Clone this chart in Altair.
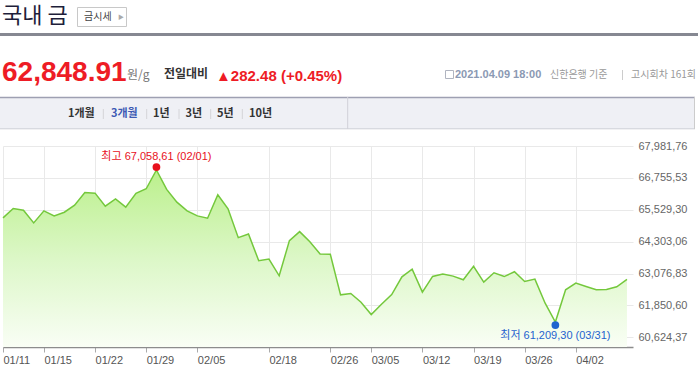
import altair as alt
import pandas as pd

# ---------------- data ----------------
dates = ["01/11", "01/12", "01/13", "01/14", "01/15", "01/18", "01/19", "01/20", "01/21", "01/22",
         "01/25", "01/26", "01/27", "01/28", "01/29", "02/01", "02/02", "02/03", "02/04", "02/05",
         "02/08", "02/09", "02/10", "02/15", "02/16", "02/17", "02/18", "02/19", "02/22", "02/23",
         "02/24", "02/25", "02/26", "03/02", "03/03", "03/04", "03/05", "03/08", "03/09", "03/10",
         "03/11", "03/12", "03/15", "03/16", "03/17", "03/18", "03/19", "03/22", "03/23", "03/24",
         "03/25", "03/26", "03/29", "03/30", "03/31", "04/01", "04/02", "04/05", "04/06", "04/07",
         "04/08", "04/09"]
prices = [65216.7, 65576.9, 65512.6, 65023.6, 65486.9, 65293.9, 65435.4, 65705.6, 66194.5, 66168.8,
          65667.0, 65950.1, 65628.4, 66160.2, 66336.1, 67058.61, 66310.3, 65821.4, 65486.9, 65293.9,
          65203.8, 66104.5, 65564.1, 64457.5, 64599.0, 63569.7, 63634.0, 62990.7, 64341.7, 64689.1,
          64303.1, 63827.0, 63815.4, 62257.2, 62308.7, 61974.2, 61498.1, 61897.0, 62270.1, 62952.1,
          63248.0, 62360.2, 62964.9, 63055.0, 62977.8, 62836.3, 63350.9, 62746.2, 63106.5, 62960.4,
          63145.1, 62771.9, 62862.0, 61935.6, 61209.30, 62450.2, 62707.6, 62578.9, 62450.2, 62463.1,
          62566.43, 62848.91]
x_tick_labels = ["01/11", "01/15", "01/22", "01/29", "02/05", "02/18", "02/26",
                 "03/05", "03/12", "03/19", "03/26", "04/02"]
y_ticks = [60624.37, 61850.60, 63076.83, 64303.06, 65529.30, 66755.53, 67981.76]
tabs = ["1개월", "3개월", "1년", "3년", "5년", "10년"]

current_price = "62,848.91"
change_text = "▲282.48 (+0.45%)"
info_time = "2021.04.09 18:00"

# ---------------- layout constants ----------------
OX, OY = 3, 146
W, H = 630, 201
Y_MIN, Y_MAX = 60251.3, 67981.76
X_MAX = 61.59
KR = "Noto Sans CJK KR"
LAT = "Liberation Sans, Noto Sans CJK KR"
RED = "#ee1c25"
BLUE = "#1f63cf"

df = pd.DataFrame({"idx": list(range(len(dates))), "date": dates, "price": prices})
tick_idx = [dates.index(d) for d in x_tick_labels]


def fmt(v):
    return f"{v:,.2f}".replace(".", ",")


imax = int(df["price"].idxmax())
imin = int(df["price"].idxmin())
hi = df.loc[[imax]].copy()
hi["label"] = f"최고 {fmt(hi['price'].iloc[0])} ({hi['date'].iloc[0]})"
lo = df.loc[[imin]].copy()
lo["label"] = f"최저 {fmt(lo['price'].iloc[0])} ({lo['date'].iloc[0]})"

label_arr = "[" + ",".join(f"'{d}'" for d in dates) + "][datum.value]"

x = alt.X("idx:Q",
          scale=alt.Scale(domain=[0, X_MAX], nice=False, zero=False),
          axis=alt.Axis(values=tick_idx, labelExpr=label_arr, title=None, grid=True,
                        gridColor="#e9e9e9", domainColor="#8c8c8c", domainWidth=1.5,
                        tickColor="#aaaaaa", tickSize=5, labelAlign="left",
                        labelBaseline="top", labelPadding=2, labelFont=LAT,
                        labelFontSize=11, labelColor="#555555", labelFlush=False))
y = alt.Y("price:Q",
          scale=alt.Scale(domain=[Y_MIN, Y_MAX], nice=False, zero=False),
          axis=alt.Axis(orient="right", values=y_ticks,
                        labelExpr="replace(format(datum.value, ',.2f'), '.', ',')",
                        title=None, domain=False, ticks=False, labelPadding=5,
                        gridColor="#e9e9e9", labelColor="#666666", labelFontSize=11,
                        labelFont=LAT))

area = alt.Chart(df).mark_area(
    color=alt.Gradient(gradient="linear",
                       stops=[alt.GradientStop(color="#bbf08c", offset=0),
                              alt.GradientStop(color="#dcf7c7", offset=0.5),
                              alt.GradientStop(color="#f9fef5", offset=1)],
                       x1=1, x2=1, y1=0, y2=1)
).encode(x=x, y=y, y2=alt.datum(Y_MIN))
line = alt.Chart(df).mark_line(color="#74c83c", strokeWidth=1.5).encode(x=x, y=y)

hi_pt = alt.Chart(hi).mark_circle(size=60, color="#e8101c", opacity=1, yOffset=-3).encode(x=x, y=y)
hi_tx = alt.Chart(hi).mark_text(dy=-13, color="#e8101c", fontSize=11, font=LAT).encode(x=x, y=y, text="label:N")
lo_pt = alt.Chart(lo).mark_circle(size=60, color=BLUE, opacity=1, yOffset=3).encode(x=x, y=y)
lo_tx = alt.Chart(lo).mark_text(dy=14, color=BLUE, fontSize=11, font=LAT).encode(x=x, y=y, text="label:N")

one = pd.DataFrame({"a": [0]})


def T(text, px, py, size, color, weight="normal", align="left", font=KR, baseline="middle"):
    return alt.Chart(one).mark_text(text=text, align=align, baseline=baseline, fontSize=size,
                                    color=color, fontWeight=weight, font=font).encode(
        x=alt.value(px - OX), y=alt.value(py - OY))


def R(x1, x2, y1, y2, fill, stroke=None, sw=1):
    kw = dict(fill=fill, strokeWidth=sw)
    if stroke:
        kw["stroke"] = stroke
    return alt.Chart(one).mark_rect(**kw).encode(
        x=alt.value(x1 - OX), x2=alt.value(x2 - OX), y=alt.value(y1 - OY), y2=alt.value(y2 - OY))


def HL(x1, x2, yy, color, sw=1):
    return alt.Chart(one).mark_rule(color=color, strokeWidth=sw).encode(
        x=alt.value(x1 - OX), x2=alt.value(x2 - OX), y=alt.value(yy - OY))


def VL(xx, y1, y2, color, sw=1):
    return alt.Chart(one).mark_rule(color=color, strokeWidth=sw).encode(
        x=alt.value(xx - OX), y=alt.value(y1 - OY), y2=alt.value(y2 - OY))


header = [
    T("국내 금", 2, 15.5, 22, "#1e1e3a"),
    R(77.5, 126.5, 7.5, 26.5, "#ffffff", "#c8c8c8"),
    T("금시세", 84, 17, 10, "#444444"),
    T("▶", 118, 17, 6, "#aaaaaa", font=LAT),
    HL(0, 698, 34.5, "#868892", 3),
    T(current_price, 2, 81, 28, RED, "bold", font=LAT, baseline="alphabetic"),
    T("원/g", 127, 75, 12, "#777777"),
    T("전일대비", 164, 74, 12, "#333333", "bold"),
    T(change_text, 216, 80.5, 15, RED, "bold", font=LAT, baseline="alphabetic"),
    R(445.5, 453.5, 70.5, 78.5, "#ffffff", "#b0b4c0"),
    T(info_time, 455, 75, 11, "#8b99b3", "bold", font=LAT),
    T("신한은행 기준", 550, 75, 10, "#999999"),
    VL(622.5, 70, 80, "#cccccc"),
    T("고시회차 161회", 696, 75, 10, "#999999", align="right"),
    R(0, 695, 97, 129, "#eff0f5"),
    HL(0, 695, 97.5, "#9ea0b2", 1.5),
    HL(0, 695, 128.8, "#cfd0d8", 1),
    VL(694.5, 97, 129, "#cccccc"),
    VL(347.7, 97, 129, "#d0d0d8"),
]
tab_x = [68, 111, 153, 185.5, 217, 249]
sep_x = [103.3, 146.7, 179, 210.7, 242.3]
for t, tx in zip(tabs, tab_x):
    header.append(T(t, tx, 114, 11, "#3d5ab4" if t == "3개월" else "#333333", "bold"))
for sx in sep_x:
    header.append(VL(sx, 109, 119, "#d4d4d8"))

chart = alt.layer(area, line, hi_pt, hi_tx, lo_pt, lo_tx, *header).properties(
    width=W, height=H,
    padding={"left": OX, "top": OY, "right": 698 - OX - W, "bottom": 376 - OY - H},
    autosize=alt.AutoSizeParams(type="none"),
    background="white",
).configure_view(strokeWidth=0)

chart.save("out.html", embed_options={"renderer": "svg", "actions": False})
